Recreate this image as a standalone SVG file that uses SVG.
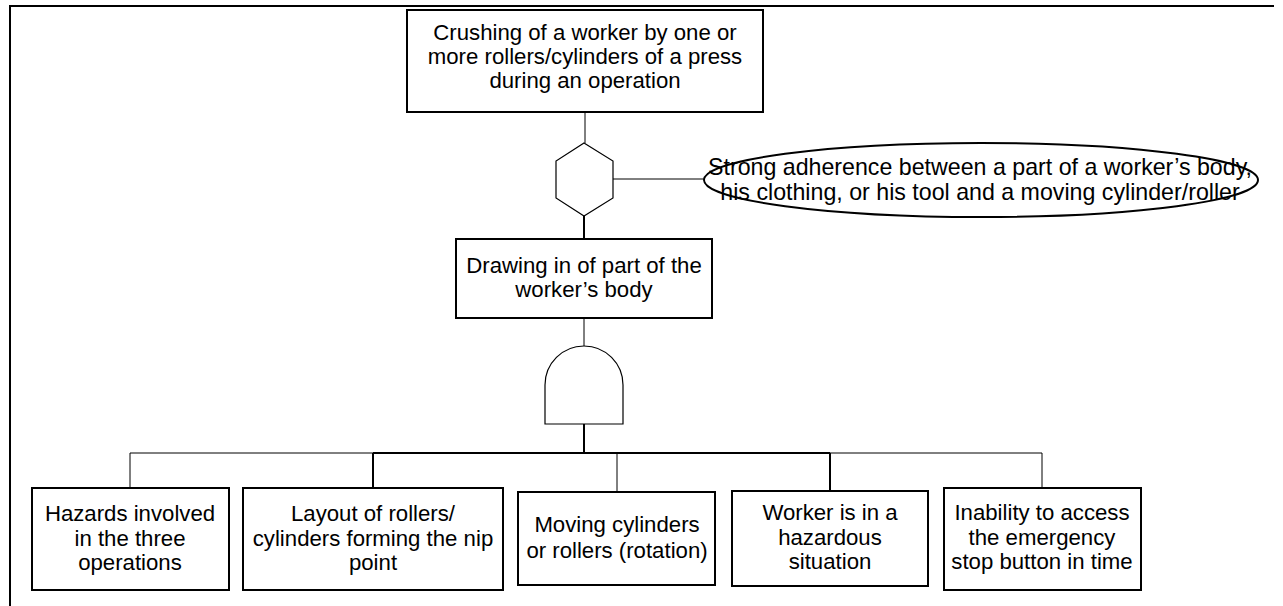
<svg xmlns="http://www.w3.org/2000/svg" width="1283" height="606" viewBox="0 0 1283 606">
<style>
.box{fill:#fff;stroke:#000;stroke-width:2}
.gate{fill:#fff;stroke:#000;stroke-width:1.2}
.thin{fill:none;stroke:#000;stroke-width:1}
.thick{fill:none;stroke:#000;stroke-width:2}
text{font-family:"Liberation Sans",Arial,sans-serif;font-size:22.2px;fill:#000;text-anchor:middle}
.big{font-size:23.2px}
</style>
<rect width="1283" height="606" fill="#fff"/>
<g id="frame">
<path class="thick" d="M9 6H1274M10 5V606" stroke-width="2.5"/>
</g>
<g id="connectors">
<path class="thin" d="M585 112V143"/>
<path class="thin" d="M613 179H704"/>
<path class="thick" d="M584 216V239"/>
<path class="thin" d="M584 318V346"/>
<path class="thick" d="M584 424V453"/>
<path class="thick" d="M373 453H830M373 453V488M830 453V491"/>
<path class="thin" d="M130 453H373M830 453H1042M130 453V488M617 453V492M1042 453V488"/>
</g>
<g id="top-event">
<rect class="box" x="407" y="10" width="356" height="102"/>
<text x="585" y="40">Crushing of a worker by one or</text>
<text x="585" y="64">more rollers/cylinders of a press</text>
<text x="585" y="88">during an operation</text>
</g>
<g id="inhibit-gate">
<polygon class="gate" points="584,143 613,161 613,198 584,216 556,198 556,161"/>
</g>
<g id="condition">
<ellipse class="box" cx="981" cy="180" rx="277" ry="37"/>
<text class="big" x="980" y="175">Strong adherence between a part of a worker’s body,</text>
<text class="big" x="980" y="200">his clothing, or his tool and a moving cylinder/roller</text>
</g>
<g id="drawing-in">
<rect class="box" x="456" y="239" width="256" height="79"/>
<text x="584" y="273">Drawing in of part of the</text>
<text x="584" y="297">worker’s body</text>
</g>
<g id="and-gate">
<path class="gate" d="M545 424V385A39 39 0 0 1 623 385V424Z"/>
</g>
<g id="hazards">
<rect class="box" x="32" y="488" width="197" height="102"/>
<text x="130" y="521">Hazards involved</text>
<text x="130" y="546">in the three</text>
<text x="130" y="570">operations</text>
</g>
<g id="layout">
<rect class="box" x="243" y="488" width="260" height="102"/>
<text x="373" y="521">Layout of rollers/</text>
<text x="373" y="546">cylinders forming the nip</text>
<text x="373" y="570">point</text>
</g>
<g id="moving">
<rect class="box" x="518" y="492" width="197" height="93"/>
<text x="617" y="532">Moving cylinders</text>
<text x="617" y="558">or rollers (rotation)</text>
</g>
<g id="worker">
<rect class="box" x="732" y="491" width="196" height="95"/>
<text x="830" y="520">Worker is in a</text>
<text x="830" y="545">hazardous</text>
<text x="830" y="569">situation</text>
</g>
<g id="inability">
<rect class="box" x="944" y="488" width="197" height="102"/>
<text x="1042" y="520">Inability to access</text>
<text x="1042" y="545">the emergency</text>
<text x="1042" y="569">stop button in time</text>
</g>
</svg>
